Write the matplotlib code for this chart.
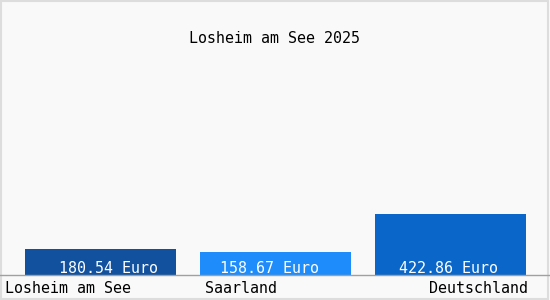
import matplotlib.pyplot as plt

regions = ['Losheim am See', 'Saarland', 'Deutschland']
values = [180.54, 158.67, 422.86]
value_labels = ['180.54 Euro', '158.67 Euro', '422.86 Euro']
title = 'Losheim am See 2025'

colors = ['#11519e', '#1e8cfa', '#0a66c8']
font = 'DejaVu Sans Mono'
fs = 10.8

fig = plt.figure(figsize=(5.5, 3), dpi=100)
fig.patch.set_facecolor('#f9f9f9')

# axes spans the whole width, baseline 25px above the bottom
ax = fig.add_axes([0, 25 / 300, 1, 275 / 300])
ax.set_facecolor('#f9f9f9')
x = list(range(len(regions)))
ax.bar(x, values, width=151 / 175, color=colors, align='center')
ax.set_xlim(-100.5 / 175, 449.5 / 175)
ax.set_ylim(0, 275 / (61 / 422.86))
ax.axis('off')

# value labels inside the bars, a little shifted like the original
shifts = [8, -6, -2]
for xi, lab, dx in zip(x, value_labels, shifts):
    ax.annotate(lab, (xi, 0), xytext=(dx * 0.72, 1.7), textcoords='offset points',
                ha='center', va='baseline', color='white', family=font, fontsize=fs)

# baseline and frame
fig.add_artist(plt.Line2D([0, 1], [25 / 300, 25 / 300], color='#a0a0a0', lw=1))
fig.add_artist(plt.Rectangle((0.002, 0.002), 0.994, 0.995, fill=False,
                             edgecolor='#dddddd', lw=1.5))

# category labels below the baseline
fig.text(5 / 550, 7.3 / 300, regions[0], ha='left', va='baseline', family=font, fontsize=fs)
fig.text(205 / 550, 7.3 / 300, regions[1], ha='left', va='baseline', family=font, fontsize=fs)
fig.text(528 / 550, 7.3 / 300, regions[2], ha='right', va='baseline', family=font, fontsize=fs)

fig.text(274.7 / 550, 256.7 / 300, title, ha='center', va='baseline', family=font, fontsize=fs)

fig.savefig('out.png', dpi=100, facecolor=fig.get_facecolor())
